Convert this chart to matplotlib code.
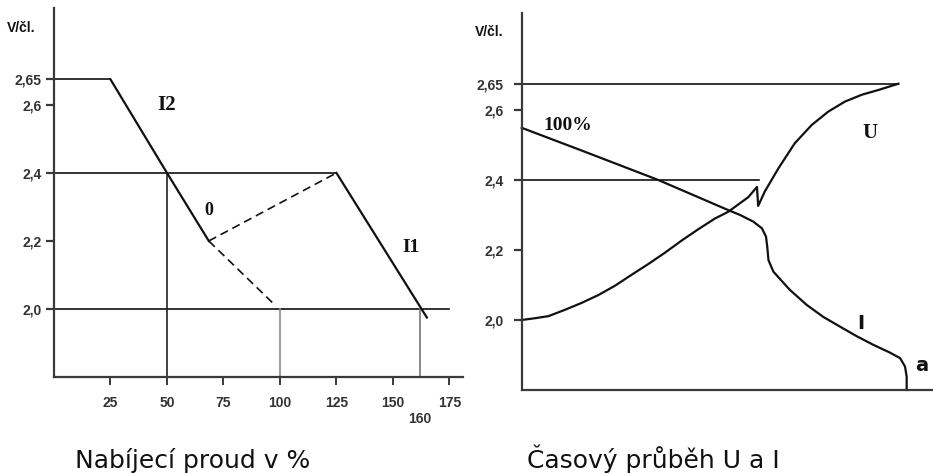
import numpy as np
import matplotlib
matplotlib.use("Agg")
import matplotlib.pyplot as plt

# ---------------- data ----------------
# left chart: charging current in % vs cell voltage
left_xticks = [25, 50, 75, 100, 125, 150, 175]
left_yticks = [2.0, 2.2, 2.4, 2.6, 2.65]
ytick_labels = ["2,0", "2,2", "2,4", "2,6", "2,65"]

i2_x = [25, 50, 68.5]
i2_y = [2.65, 2.4, 2.2]
i1_x = [125, 165]
i1_y = [2.4, 1.975]
top_line_x = [0, 25]
top_line_y = [2.65, 2.65]
mid_line_x = [0, 125]
mid_line_y = [2.4, 2.4]
low_line_x = [0, 175]
low_line_y = [2.0, 2.0]
dash_up_x = [68.5, 125]
dash_up_y = [2.2, 2.4]
dash_down_x = [68.5, 98]
dash_down_y = [2.2, 2.01]
vline50_y = [1.8, 2.4]
vline100_y = [1.8, 2.0]
vline162_y = [1.8, 2.0]

# right chart: time course of U and I
u_x = [0, 3.2, 6.5, 10.5, 14.6, 18.6, 22.7, 26.7, 30.8, 34.8, 38.9, 42.9,
       47.0, 50.2, 55.1, 57.2, 57.5, 59.1, 62.4, 66.4, 70.5, 74.5, 78.6,
       82.7, 86.7, 91.6]
u_y = [2.0, 2.005, 2.011, 2.029, 2.049, 2.071, 2.098, 2.129, 2.160, 2.192,
       2.227, 2.259, 2.290, 2.309, 2.351, 2.380, 2.326, 2.367, 2.433, 2.505,
       2.557, 2.595, 2.616, 2.629, 2.638, 2.65]
i_x = [0, 14.6, 33.2, 50.2, 53.1, 56.3, 58.4, 59.4, 59.7, 60.0, 61.2, 65.2,
       69.3, 73.3, 77.4, 81.4, 85.5, 89.5, 92.0, 93.2, 93.6, 93.6]
i_y = [2.549, 2.484, 2.4, 2.314, 2.300, 2.281, 2.262, 2.238, 2.209, 2.171,
       2.138, 2.086, 2.043, 2.009, 1.981, 1.954, 1.929, 1.907, 1.891, 1.867,
       1.838, 1.8]
r_top_x = [0, 91.6]
r_top_y = [2.65, 2.65]
r_mid_x = [0, 57.6]
r_mid_y = [2.4, 2.4]

# ---------------- scale (top of the axis is stretched above 2.6) ----------------
K = 1.5


def fwd(v):
    v = np.asarray(v, dtype=float)
    return np.where(v > 2.6, 2.6 + (v - 2.6) * K, v)


def inv(t):
    t = np.asarray(t, dtype=float)
    return np.where(t > 2.6, 2.6 + (t - 2.6) / K, t)


W, H = 933, 474
fig = plt.figure(figsize=(W / 100, H / 100), dpi=100)

DARK = "#111111"
AX = "#3a3a3a"
GRAY = "#8a8a8a"
tickfont = dict(family="Liberation Sans", weight="bold", size=10)
serif = dict(family="Liberation Serif", weight="bold")


def px_axes(x0, y0, x1, y1):
    return fig.add_axes([x0 / W, (H - y1) / H, (x1 - x0) / W, (y1 - y0) / H])


def style(ax):
    for s in ("top", "right"):
        ax.spines[s].set_visible(False)
    for s in ("left", "bottom"):
        ax.spines[s].set_color(AX)
        ax.spines[s].set_linewidth(1.6)
    ax.set_yscale("function", functions=(fwd, inv))
    ax.set_yticks(left_yticks)
    ax.set_yticklabels(ytick_labels, **tickfont, color="#333333")
    ax.yaxis.set_minor_locator(matplotlib.ticker.NullLocator())
    ax.tick_params(axis="y", length=6, width=1.6, color=AX)


# ---------------- left chart ----------------
ax1 = px_axes(54, 8, 463, 377)
style(ax1)
ax1.set_xlim(0, 181)
ax1.set_ylim(1.8, float(inv(2.885)))
ax1.tick_params(axis="y", pad=3)
ax1.set_xticks(left_xticks)
ax1.set_xticklabels([str(v) for v in left_xticks], **tickfont, color="#333333")
ax1.tick_params(axis="x", length=6, width=1.4, color=AX, pad=8)

ax1.plot(top_line_x, top_line_y, color=DARK, lw=1.2, clip_on=False)
ax1.plot(mid_line_x, mid_line_y, color=DARK, lw=1.2, clip_on=False)
ax1.plot(low_line_x, low_line_y, color=DARK, lw=1.2, clip_on=False)
ax1.plot([50, 50], vline50_y, color="#222222", lw=1.2)
ax1.plot([100, 100], vline100_y, color=GRAY, lw=1.2)
ax1.plot([162, 162], vline162_y, color=GRAY, lw=1.4)
ax1.plot(i2_x, i2_y, color=DARK, lw=1.6, clip_on=False)
ax1.plot(i1_x, i1_y, color=DARK, lw=1.6, clip_on=False)
ax1.plot(dash_up_x, dash_up_y, color=DARK, lw=1.2, ls=(0, (5, 3)))
ax1.plot(dash_down_x, dash_down_y, color=DARK, lw=1.2, ls=(0, (5, 3)))

ax1.text(50, 2.6, "I2", fontsize=15, ha="center", va="center", color=DARK, **serif)
ax1.text(68.5, 2.29, "0", fontsize=13, ha="center", va="center", color=DARK, **serif)
ax1.text(158, 2.18, "I1", fontsize=14, ha="center", va="center", color=DARK, **serif)
ax1.text(162, -0.115, "160", transform=ax1.get_xaxis_transform(), ha="center",
         va="center", color="#333333", **tickfont)
ax1.text(-0.08, 0.945, "V/čl.", transform=ax1.transAxes, ha="center", va="center",
         color=DARK, **tickfont)

# ---------------- right chart ----------------
ax2 = px_axes(521.7, 13, 933, 390)
style(ax2)
ax2.set_xlim(0, 100)
ax2.set_ylim(1.8, float(inv(2.877)))
ax2.tick_params(axis="y", pad=7)
ax2.set_xticks([])

ax2.plot(r_top_x, r_top_y, color=DARK, lw=1.2, clip_on=False)
ax2.plot(r_mid_x, r_mid_y, color=DARK, lw=1.2, clip_on=False)
ax2.plot(u_x, u_y, color=DARK, lw=1.6, clip_on=False, solid_joinstyle="round")
ax2.plot(i_x, i_y, color=DARK, lw=1.6, clip_on=False, solid_joinstyle="round")

ax2.text(11.2, 2.555, "100%", fontsize=14, ha="center", va="center", color=DARK, **serif)
ax2.text(84.8, 2.535, "U", fontsize=15, ha="center", va="center", color=DARK, **serif)
ax2.text(82.5, 1.99, "I", fontsize=14, ha="center", va="center", color=DARK,
         family="DejaVu Sans", weight="bold")
ax2.text(97.3, 1.87, "a", fontsize=14, ha="center", va="center", color=DARK,
         family="DejaVu Sans", weight="bold")
ax2.text(-0.08, 0.95, "V/čl.", transform=ax2.transAxes, ha="center", va="center",
         color=DARK, **tickfont)

# ---------------- captions ----------------
fig.text(193 / W, 6 / H, "Nabíjecí proud v %", ha="center", va="baseline",
         fontsize=18, family="DejaVu Sans", color=DARK)
fig.text(653 / W, 6 / H, "Časový průběh U a I", ha="center", va="baseline",
         fontsize=18, family="DejaVu Sans", color=DARK)

fig.savefig("out.png", dpi=100)
